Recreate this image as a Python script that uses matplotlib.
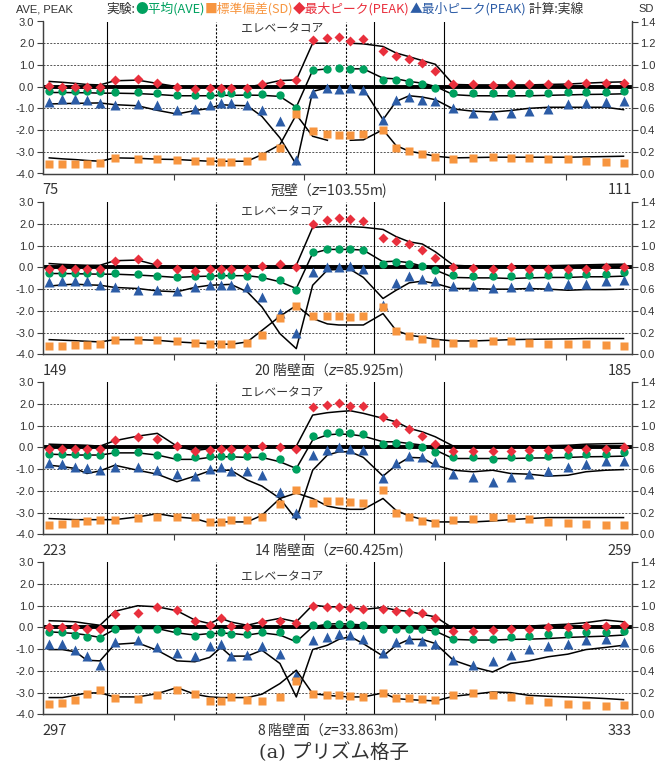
import numpy as np
import matplotlib
matplotlib.use("Agg")
import matplotlib.pyplot as plt

plt.rcParams['font.family'] = ['Liberation Sans', 'Noto Sans CJK JP', 'DejaVu Sans']
plt.rcParams['axes.unicode_minus'] = False

nan = np.nan

# tap positions, measured from the left end of each wall (same layout on every floor)
X_REL = [0.4, 1.2, 2.0, 2.7, 3.5, 4.4, 5.8, 7.0, 8.2, 9.3, 10.2, 10.9, 11.5, 12.5,
         13.4, 14.5, 15.5, 16.5, 17.4, 18.1, 18.8, 19.6, 20.8, 21.6, 22.4, 23.2,
         24.0, 25.1, 26.3, 27.5, 28.6, 29.7, 30.9, 32.1, 33.2, 34.4, 35.5]
SPAN = 36
SOLID_LINES = [3.95, 20.27, 24.55]
DASHED_LINES = [10.59, 18.51]

STARTS = [75, 149, 223, 297]
TITLES = ['冠壁（$z$=103.55m)', '20 階壁面（$z$=85.925m)',
          '14 階壁面（$z$=60.425m)', '8 階壁面（$z$=33.863m)']

# ---- 冠壁 ----
ave_1 = [-0.19, -0.19, -0.19, -0.22, -0.22, -0.26, -0.26, -0.30, -0.37, -0.37, -0.37, -0.30, -0.30,
         -0.33, -0.36, -0.40, -0.98, 0.77, 0.82, 0.85, 0.82, 0.82, 0.32, 0.32, 0.22, 0.13, -0.07,
         -0.30, -0.30, -0.30, -0.30, -0.30, -0.30, -0.26, -0.23, -0.23, -0.19]
sd_1 = [0.092, 0.092, 0.092, 0.092, 0.098, 0.144, 0.135, 0.129, 0.122, 0.113, 0.113, 0.104, 0.104,
        0.113, 0.159, 0.236, 0.551, 0.395, 0.36, 0.358, 0.352, 0.367, 0.404, 0.236, 0.205, 0.181,
        0.150, 0.129, 0.144, 0.153, 0.144, 0.144, 0.135, 0.129, 0.113, 0.107, 0.098]
max_1 = [0.04, -0.02, -0.02, -0.02, 0.0, 0.30, 0.36, 0.19, -0.02, -0.10, -0.05, -0.07, -0.08,
         -0.05, 0.10, 0.19, 0.32, 2.15, 2.23, 2.28, 2.12, 2.18, 1.62, 1.43, 1.28, 1.11, 0.70,
         0.12, 0.12, 0.07, 0.12, 0.12, 0.13, 0.13, 0.18, 0.15, 0.15]
min_1 = [-0.72, -0.56, -0.56, -0.60, -0.75, -0.86, -0.80, -0.86, -1.06, -1.03, -0.86, -0.75, -0.75,
         -0.86, -1.09, -1.60, -3.36, -0.28, -0.08, -0.10, -0.07, -0.17, -1.55, -0.60, -0.48, -0.63,
         -0.68, -0.98, -1.21, -1.32, -1.21, -1.14, -1.03, -0.80, -0.75, -0.72, -0.65]
ave_calc_1 = [-0.27, -0.27, -0.28, -0.28, -0.30, -0.30, -0.32, -0.36, -0.42, -0.42, -0.42, -0.40,
              -0.40, -0.39, -0.40, -0.45, -0.94, 0.75, 0.82, nan, 0.82, 0.82, 0.39, 0.36, 0.24,
              0.16, 0.01, -0.37, -0.42, -0.42, -0.42, -0.42, -0.40, -0.38, -0.36, -0.35, -0.33]
sd_calc_1 = [0.144, 0.135, 0.128, 0.120, 0.113, 0.144, 0.140, 0.132, 0.129, 0.120, 0.113, 0.113,
             0.113, 0.113, 0.174, 0.266, 0.542, 0.343, 0.306, nan, 0.306, 0.310, 0.404, 0.257,
             0.205, 0.184, 0.159, 0.144, 0.147, 0.150, 0.150, 0.150, 0.150, 0.150, 0.153, 0.156,
             0.159]
max_calc_1 = [0.24, 0.20, 0.15, 0.10, 0.08, 0.27, 0.30, 0.15, 0.0, -0.05, -0.02, 0.0, 0.0, -0.02,
              0.10, 0.28, 0.31, 2.0, 2.0, nan, 2.0, 1.97, 1.85, 1.55, 1.38, 1.20, 1.03, 0.10,
              0.08, 0.08, 0.08, 0.08, 0.10, 0.12, 0.16, 0.20, 0.22]
min_calc_1 = [-0.80, -0.78, -0.77, -0.76, -0.75, -0.83, -0.88, -1.09, -1.26, -1.10, -1.00, -0.83,
              -0.86, -0.88, -1.37, -2.36, -3.59, -0.22, -0.05, nan, -0.05, -0.10, -1.52, -0.68,
              -0.42, -0.48, -0.60, -1.03, -1.13, -1.17, -1.10, -1.00, -0.95, -0.95, -0.95, -0.95,
              -1.06]

# ---- 20 階壁面 ----
ave_2 = [-0.25, -0.25, -0.25, -0.25, -0.25, -0.25, -0.32, -0.38, -0.43, -0.38, -0.38, -0.35, -0.35,
         -0.38, -0.43, -0.58, -1.05, 0.72, 0.85, 0.85, 0.85, 0.80, 0.18, 0.26, 0.18, 0.06, -0.12,
         -0.35, -0.38, -0.38, -0.38, -0.35, -0.35, -0.35, -0.31, -0.28, -0.23]
sd_2 = [0.074, 0.074, 0.083, 0.083, 0.092, 0.135, 0.135, 0.135, 0.123, 0.108, 0.098, 0.098, 0.098,
        0.108, 0.175, 0.338, 0.443, 0.351, 0.354, 0.354, 0.345, 0.354, 0.437, 0.215, 0.169, 0.145,
        0.108, 0.108, 0.108, 0.120, 0.120, 0.108, 0.098, 0.098, 0.092, 0.083, 0.077]
max_2 = [-0.08, -0.08, -0.08, -0.08, -0.05, 0.31, 0.37, 0.22, -0.09, -0.15, -0.09, -0.09, -0.09,
         -0.09, 0.08, 0.18, 0.03, 2.0, 2.18, 2.26, 2.22, 2.15, 1.34, 1.22, 1.08, 0.80, 0.42, 0.0,
         -0.02, -0.05, 0.0, -0.05, -0.08, -0.05, -0.05, 0.0, 0.0]
min_2 = [-0.66, -0.62, -0.62, -0.63, -0.82, -0.89, -1.05, -1.05, -1.08, -0.92, -0.82, -0.82, -0.82,
         -0.92, -1.35, -2.09, -3.02, -0.23, 0.0, 0.03, 0.06, -0.05, -1.75, -0.71, -0.40, -0.51,
         -0.62, -0.86, -0.86, -0.94, -0.92, -0.86, -0.86, -0.78, -0.74, -0.63, -0.58]
ave_calc_2 = [-0.28, -0.28, -0.29, -0.30, -0.31, -0.31, -0.35, -0.40, -0.46, -0.42, -0.40, -0.38,
              -0.38, -0.38, -0.46, -0.66, -0.97, 0.65, 0.83, 0.83, 0.83, 0.80, 0.26, 0.29, 0.22,
              0.06, -0.12, -0.46, -0.48, -0.48, -0.51, -0.48, -0.46, -0.46, -0.43, -0.43, -0.40]
sd_calc_2 = [0.135, 0.130, 0.125, 0.120, 0.114, 0.135, 0.135, 0.129, 0.114, 0.105, 0.098, 0.095,
             0.092, 0.114, 0.220, 0.350, 0.450, 0.330, 0.280, 0.270, 0.270, 0.270, 0.375, 0.220,
             0.175, 0.160, 0.138, 0.123, 0.123, 0.129, 0.135, 0.138, 0.140, 0.142, 0.145, 0.145,
             0.145]
max_calc_2 = [0.18, 0.14, 0.12, 0.10, 0.10, 0.31, 0.34, 0.10, 0.0, -0.05, -0.02, 0.0, 0.0, -0.02,
              0.0, 0.0, 0.10, 1.85, 1.88, 1.88, 1.88, 1.85, 1.75, 1.42, 1.18, 1.08, 0.72, 0.10,
              0.06, 0.06, 0.06, 0.08, 0.08, 0.10, 0.12, 0.14, 0.15]
min_calc_2 = [-0.86, -0.80, -0.77, -0.80, -0.82, -0.92, -0.97, -1.08, -1.12, -0.92, -0.82, -0.80,
              -0.78, -1.12, -1.82, -3.05, -3.74, -0.82, -0.12, -0.09, -0.09, -0.46, -1.43, -1.05,
              -0.71, -0.63, -0.74, -0.97, -0.97, -1.00, -1.00, -0.97, -1.00, -1.05, -1.02, -1.02,
              -1.00]

# ---- 14 階壁面 ----
ave_3 = [-0.28, -0.28, -0.32, -0.35, -0.35, -0.20, -0.20, -0.35, -0.46, -0.46, -0.38, -0.38, -0.38,
         -0.38, -0.38, -0.54, -1.00, 0.52, 0.65, 0.72, 0.68, 0.62, 0.14, 0.22, 0.11, 0.0, -0.20,
         -0.46, -0.46, -0.51, -0.46, -0.46, -0.40, -0.35, -0.32, -0.28, -0.23]
sd_3 = [0.083, 0.092, 0.108, 0.123, 0.129, 0.129, 0.154, 0.160, 0.160, 0.160, 0.114, 0.114, 0.135,
        0.135, 0.160, 0.283, 0.412, 0.289, 0.308, 0.308, 0.298, 0.292, 0.406, 0.200, 0.160, 0.123,
        0.108, 0.135, 0.145, 0.160, 0.151, 0.138, 0.114, 0.105, 0.092, 0.083, 0.083]
max_3 = [-0.08, -0.08, -0.08, -0.08, -0.08, 0.34, 0.49, 0.38, 0.06, -0.15, -0.12, -0.08, -0.08,
         -0.09, 0.06, 0.03, -0.05, 1.85, 1.95, 2.03, 1.91, 1.91, 1.42, 1.14, 0.83, 0.52, 0.18,
         -0.17, -0.17, -0.17, -0.17, -0.12, -0.12, -0.08, -0.05, -0.05, 0.0]
min_3 = [-0.71, -0.78, -0.89, -0.94, -1.02, -0.89, -0.89, -1.02, -1.23, -1.32, -0.97, -0.89, -1.09,
         -1.08, -1.28, -2.05, -3.02, -0.35, -0.12, 0.0, -0.05, -0.12, -1.43, -0.71, -0.40, -0.46,
         -0.66, -1.20, -1.38, -1.58, -1.38, -1.23, -1.08, -0.92, -0.78, -0.63, -0.62]
ave_calc_3 = [-0.31, -0.33, -0.35, -0.35, -0.35, -0.25, -0.25, -0.35, -0.55, -0.55, -0.46, -0.43,
              -0.43, -0.46, -0.46, -0.66, -0.97, 0.34, 0.58, 0.62, 0.60, 0.52, 0.26, 0.26, 0.18,
              0.11, -0.12, -0.51, -0.51, -0.51, -0.51, -0.49, -0.48, -0.46, -0.43, -0.42, -0.40]
sd_calc_3 = [0.145, 0.140, 0.135, 0.135, 0.135, 0.135, 0.160, 0.190, 0.160, 0.145, 0.105, 0.114,
             0.114, 0.114, 0.175, 0.330, 0.380, 0.330, 0.260, 0.240, 0.230, 0.230, 0.330, 0.220,
             0.169, 0.138, 0.114, 0.114, 0.114, 0.123, 0.135, 0.145, 0.154, 0.154, 0.154, 0.154,
             0.154]
max_calc_3 = [0.15, 0.13, 0.12, 0.10, 0.06, 0.31, 0.52, 0.65, 0.06, -0.15, -0.05, 0.03, 0.03, 0.0,
              0.06, 0.0, 0.06, 1.49, 1.60, 1.65, 1.69, 1.57, 1.34, 1.18, 0.88, 0.72, 0.49, 0.06,
              0.03, 0.03, 0.06, 0.06, 0.08, 0.10, 0.15, 0.17, 0.18]
min_calc_3 = [-0.82, -0.88, -0.97, -1.20, -1.08, -0.82, -1.05, -1.23, -1.58, -1.32, -1.08, -1.05,
              -1.05, -1.50, -1.78, -2.35, -3.32, -1.05, -0.35, -0.20, -0.20, -0.46, -1.32, -0.82,
              -0.46, -0.48, -0.82, -1.05, -1.12, -1.05, -1.20, -1.23, -1.32, -1.28, -1.12, -1.05,
              -1.02]

# ---- 8 階壁面 ----
ave_4 = [-0.20, -0.23, -0.35, -0.43, -0.48, -0.09, -0.05, -0.05, -0.17, -0.38, -0.28, -0.23, -0.31,
         -0.32, -0.20, -0.23, -0.51, 0.11, 0.15, 0.18, 0.15, 0.11, -0.08, -0.05, -0.05, -0.08,
         -0.15, -0.54, -0.54, -0.54, -0.46, -0.40, -0.32, -0.28, -0.23, -0.20, -0.17]
sd_4 = [0.092, 0.105, 0.135, 0.185, 0.222, 0.154, 0.145, 0.175, 0.222, 0.191, 0.120, 0.120, 0.160,
        0.135, 0.120, 0.160, 0.305, 0.185, 0.175, 0.175, 0.169, 0.160, 0.197, 0.154, 0.151, 0.145,
        0.135, 0.175, 0.197, 0.175, 0.160, 0.135, 0.114, 0.098, 0.083, 0.077, 0.083]
max_4 = [0.03, 0.03, 0.03, -0.05, -0.05, 0.60, 0.68, 0.92, 0.80, 0.31, 0.12, 0.42, 0.06, 0.03,
         0.26, 0.31, 0.22, 1.0, 0.94, 0.93, 0.90, 0.83, 0.83, 0.75, 0.71, 0.68, 0.42, -0.15,
         -0.17, -0.12, -0.08, -0.05, 0.0, 0.0, 0.06, 0.06, 0.11]
min_4 = [-0.74, -0.78, -1.05, -1.32, -1.74, -0.66, -0.58, -0.89, -1.20, -1.32, -0.86, -0.78, -1.32,
         -1.25, -0.86, -1.23, -2.20, -0.58, -0.43, -0.31, -0.35, -0.51, -1.20, -0.66, -0.55, -0.62,
         -0.78, -1.48, -1.71, -1.54, -1.28, -0.97, -0.86, -0.78, -0.58, -0.55, -0.66]
ave_calc_4 = [-0.20, -0.24, -0.28, -0.35, -0.46, -0.09, -0.05, -0.05, -0.25, -0.35, -0.28, -0.27,
              -0.27, -0.35, -0.25, -0.35, -0.66, 0.03, 0.15, 0.18, 0.15, 0.11, 0.0, -0.05, -0.05,
              -0.08, -0.17, -0.55, -0.58, -0.58, -0.55, -0.54, -0.51, -0.46, -0.43, -0.40, -0.35]
sd_calc_4 = [0.154, 0.154, 0.175, 0.197, 0.197, 0.160, 0.160, 0.190, 0.246, 0.185, 0.160, 0.154,
             0.154, 0.154, 0.185, 0.283, 0.406, 0.190, 0.175, 0.166, 0.160, 0.160, 0.197, 0.145,
             0.135, 0.129, 0.123, 0.166, 0.185, 0.206, 0.200, 0.175, 0.166, 0.160, 0.154, 0.145,
             0.135]
max_calc_4 = [0.31, 0.29, 0.26, 0.18, 0.10, 0.74, 1.0, 0.95, 0.77, 0.34, 0.18, 0.42, 0.25, 0.10,
              0.26, 0.42, 0.26, 1.03, 0.95, 0.95, 0.92, 0.83, 0.92, 0.80, 0.74, 0.60, 0.49, -0.05,
              0.0, 0.06, 0.06, 0.06, 0.11, 0.15, 0.22, 0.34, 0.26]
min_calc_4 = [-1.02, -1.02, -1.12, -1.51, -1.54, -0.78, -0.71, -1.05, -1.54, -1.58, -1.38, -0.92,
              -1.32, -1.32, -1.05, -1.66, -3.20, -1.02, -0.82, -0.55, -0.42, -0.75, -1.32, -0.82,
              -0.55, -0.55, -0.74, -1.51, -1.82, -2.05, -1.66, -1.54, -1.35, -1.23, -1.02, -0.92,
              -0.82]

AVE = [ave_1, ave_2, ave_3, ave_4]
SD = [sd_1, sd_2, sd_3, sd_4]
MAX = [max_1, max_2, max_3, max_4]
MIN = [min_1, min_2, min_3, min_4]
AVE_CALC = [ave_calc_1, ave_calc_2, ave_calc_3, ave_calc_4]
SD_CALC = [sd_calc_1, sd_calc_2, sd_calc_3, sd_calc_4]
MAX_CALC = [max_calc_1, max_calc_2, max_calc_3, max_calc_4]
MIN_CALC = [min_calc_1, min_calc_2, min_calc_3, min_calc_4]
CORE_Y = [0.949, 0.938, 0.932, 0.906]

GREEN = '#00a15f'
ORANGE = '#f7953f'
RED = '#e9303d'
BLUE = '#2c5ca6'
TEXT = '#333333'
JP = ['Noto Sans CJK JP', 'DejaVu Sans']

W, H = 662, 769
fig = plt.figure(figsize=(W / 100, H / 100), dpi=100)

tops = [21.5, 202.3, 382.3, 562.3]
ph = 152.0
left, width = 42.7 / W, 589.0 / W

axes = []
for k in range(4):
    ax = fig.add_axes([left, 1 - (tops[k] + ph) / H, width, ph / H])
    ax2 = ax.twinx()
    axes.append(ax)
    x0 = STARTS[k]
    x = np.array(X_REL) + x0

    ax.set_xlim(x0, x0 + SPAN)
    ax.set_ylim(-4, 3)
    ax2.set_ylim(0, 1.4)

    # grid and wall boundaries
    for yv in range(-3, 3):
        ax.axhline(yv, color='#555555', lw=0.7, ls=(0, (2, 1.5)), zorder=1)
    for xv in SOLID_LINES:
        ax.axvline(x0 + xv, color='black', lw=0.8, zorder=1)
    for xv in DASHED_LINES:
        ax.axvline(x0 + xv, color='black', lw=0.8, ls=(0, (2, 1.5)), zorder=1)
    ax.axhline(0, color='black', lw=2.8, zorder=2)

    # calculation (solid lines)
    ax.plot(x, MAX_CALC[k], color='black', lw=1.1, zorder=3)
    ax.plot(x, AVE_CALC[k], color='black', lw=1.1, zorder=3)
    ax.plot(x, MIN_CALC[k], color='black', lw=1.1, zorder=3)
    ax2.plot(x, SD_CALC[k], color='black', lw=1.1, zorder=3)

    # experiment (markers)
    ax.plot(x, MIN[k], ls='none', marker='^', ms=6.5, color=BLUE, mec='none', zorder=4)
    ax.plot(x, AVE[k], ls='none', marker='o', ms=6, color=GREEN, mec='none', zorder=4)
    ax.plot(x, MAX[k], ls='none', marker='D', ms=5, color=RED, mec='none', zorder=4)
    ax2.plot(x, SD[k], ls='none', marker='s', ms=5.5, color=ORANGE, mec='none', zorder=4)

    # axes styling
    ax.set_xticks([x0 + 8, x0 + 16, x0 + 24, x0 + 32])
    ax.set_xticklabels([])
    ax.set_yticks(np.arange(-4, 3.5, 1))
    ax.set_yticklabels([f'{v:.1f}' for v in np.arange(-4, 3.5, 1)])
    ax2.set_yticks(np.arange(0, 1.45, 0.2))
    ax2.set_yticklabels([f'{v:.1f}' for v in np.arange(0, 1.45, 0.2)])
    for a in (ax, ax2):
        a.spines['top'].set_visible(False)
        for s in ('left', 'right', 'bottom'):
            a.spines[s].set_color('#404040')
            a.spines[s].set_linewidth(0.9)
        a.tick_params(axis='both', direction='out', length=4, width=0.8,
                      color='#404040', labelsize=8, labelcolor=TEXT, pad=2)
    ax.tick_params(axis='x', length=4)

    ax.text(0.0, -0.11, str(x0), transform=ax.transAxes, ha='left', va='center',
            fontsize=10.5, family=JP, color=TEXT)
    ax.text(1.0, -0.11, str(x0 + SPAN), transform=ax.transAxes, ha='right', va='center',
            fontsize=10.5, family=JP, color=TEXT)
    ax.text(0.485, -0.11, TITLES[k], transform=ax.transAxes, ha='center', va='center',
            fontsize=10, family='Noto Sans CJK JP', color=TEXT)
    ax.text(0.406, CORE_Y[k], 'エレベータコア', transform=ax.transAxes, ha='center',
            va='center', fontsize=8.5, family=JP, color=TEXT, zorder=5)

# header
fig.text(16 / W, 1 - 9 / H, 'AVE, PEAK', ha='left', va='center', fontsize=8, color=TEXT)
fig.text(638 / W, 1 - 9 / H, 'SD', ha='left', va='center', fontsize=8, color=TEXT)
pieces = [('●平均(AVE)', GREEN), ('■標準偏差(SD)', ORANGE), ('◆最大ピーク(PEAK)', RED),
          ('▲最小ピーク(PEAK)', BLUE), (' 計算:実線', TEXT)]
prev = fig.text(106 / W, 1 - 16 / H, '実験:', ha='left', va='bottom', fontsize=9.2,
                family=JP, color=TEXT)
for s, c in pieces:
    prev = axes[0].annotate(s, xy=(1, 0), xycoords=prev, ha='left', va='bottom',
                            fontsize=9.2, family=JP, color=c, annotation_clip=False)

fig.text(0.505, 1 - 752 / H, '(a) プリズム格子', ha='center', va='center', fontsize=14,
         family=['DejaVu Serif', 'Noto Sans CJK JP'], color=TEXT)

fig.savefig('out.png', dpi=100)
